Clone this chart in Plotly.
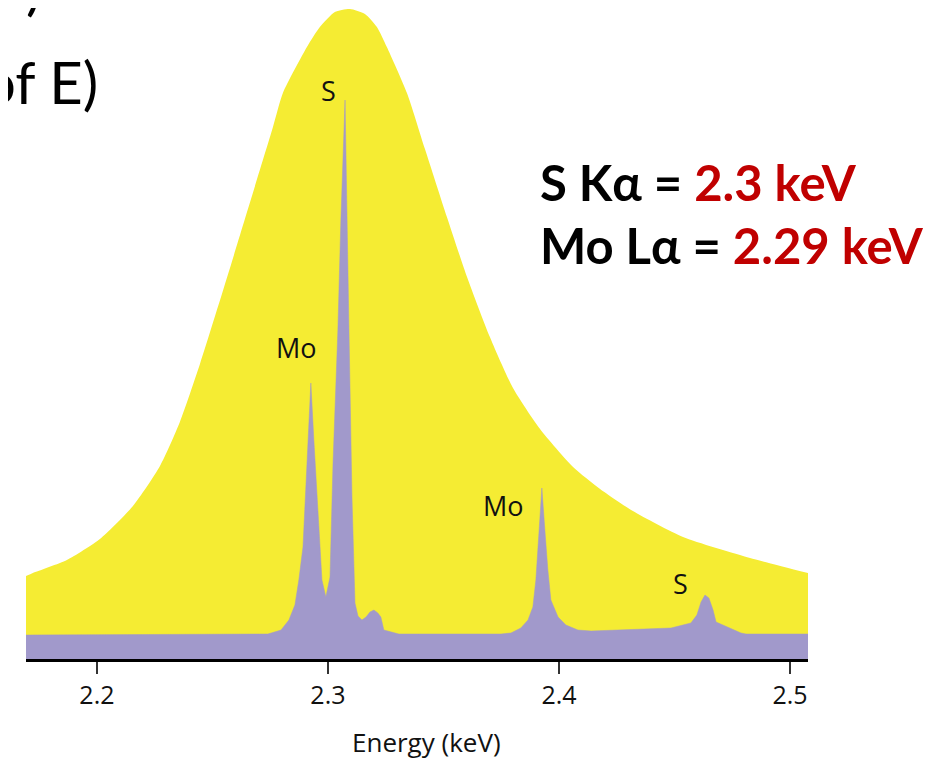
import plotly.graph_objects as go

# Broad (resolution-broadened) envelope, energy in keV / relative intensity
envelope_energy = [2.1693, 2.1723, 2.1870, 2.2013, 2.2156, 2.2273, 2.2359, 2.2446,
                   2.2576, 2.2675, 2.2762, 2.2805, 2.2909, 2.2965, 2.3030,
                   2.3095, 2.3160, 2.3212, 2.3255, 2.3342, 2.3420, 2.3515, 2.3602,
                   2.3701, 2.3801, 2.3918, 2.4061, 2.4178, 2.4320, 2.4537, 2.4827,
                   2.5078]
envelope_counts = [83, 86, 99, 120, 153, 193, 237, 295,
                   391, 466, 532, 566, 612, 632, 647,
                   650, 645, 632, 612, 566, 510, 442, 382,
                   322, 271, 230, 192, 170, 148, 122, 101,
                   86]

# High-resolution spectrum (sharp peaks)
spectrum_energy = [2.1693, 2.2740, 2.2797, 2.2831, 2.2857, 2.2874, 2.2892, 2.2909,
                   2.2926, 2.2939, 2.2952, 2.2974, 2.2991, 2.3009, 2.3022, 2.3043,
                   2.3056, 2.3074, 2.3091, 2.3104, 2.3117, 2.3130, 2.3147, 2.3165,
                   2.3182, 2.3199, 2.3216, 2.3229, 2.3242, 2.3277, 2.3307, 2.3394,
                   2.3749, 2.3792, 2.3835, 2.3866, 2.3887, 2.3900, 2.3913, 2.3926,
                   2.3939, 2.3952, 2.3965, 2.3996, 2.4030, 2.4082, 2.4139, 2.4485,
                   2.4571, 2.4597, 2.4615, 2.4632, 2.4649, 2.4667, 2.4680, 2.4736,
                   2.4788, 2.4810, 2.5078]
spectrum_counts = [24, 25, 29, 39, 54, 79, 112, 189,
                   276, 219, 162, 79, 62, 82, 196, 329,
                   439, 559, 329, 162, 56, 43, 39, 42,
                   47, 49, 46, 42, 29, 27, 25, 25,
                   25, 26, 31, 39, 52, 79, 129, 171,
                   129, 89, 59, 42, 34, 29, 28, 31,
                   36, 44, 57, 64, 61, 49, 37, 31,
                   26, 25, 25]

tick_values = [2.2, 2.3, 2.4, 2.5]
tick_labels = ["2.2", "2.3", "2.4", "2.5"]
x_title = "Energy (keV)"

peak_labels = ["S", "Mo", "Mo", "S"]
peak_label_energy = [2.3004, 2.2866, 2.3762, 2.4528]
peak_label_counts = [569, 312, 154, 76]

YELLOW = "#F5EC33"
PURPLE = "#A199CB"
RED = "#C00000"

OFF = 8  # page body margin of the browser
W, H = 948 - OFF, 759 - OFF
L, R, T, B = 18, 140, 0, 100
PW, PH = W - L - R, H - T - B


def px(x_screen):
    return (x_screen - OFF - L) / PW


def py(y_screen):
    return (H - B - (y_screen - OFF)) / PH


fig = go.Figure()
fig.add_trace(go.Scatter(x=envelope_energy, y=envelope_counts, mode="lines",
                         line=dict(color=YELLOW, width=0, shape="spline", smoothing=0.6),
                         fill="tozeroy", fillcolor=YELLOW, hoverinfo="skip",
                         showlegend=False))
fig.add_trace(go.Scatter(x=spectrum_energy, y=spectrum_counts, mode="lines",
                         line=dict(color=PURPLE, width=0.5),
                         fill="tozeroy", fillcolor=PURPLE, hoverinfo="skip",
                         showlegend=False))

for t, xe, yc in zip(peak_labels, peak_label_energy, peak_label_counts):
    fig.add_annotation(x=xe, y=yc, xref="x", yref="y", text=t, showarrow=False,
                       font=dict(family="Open Sans", size=27, color="#111111"))

fig.add_annotation(x=px(538), y=py(182), xref="paper", yref="paper", xanchor="left",
                   yanchor="middle", showarrow=False,
                   text="S Kα = <span style='color:%s'>2.3 keV</span>" % RED,
                   font=dict(family="Lato", size=49, color="#000000", weight="bold"))
fig.add_annotation(x=px(538), y=py(245), xref="paper", yref="paper", xanchor="left",
                   yanchor="middle", showarrow=False,
                   text="Mo Lα = <span style='color:%s'>2.29 keV</span>" % RED,
                   font=dict(family="Lato", size=49, color="#000000", weight="bold"))

# x-axis title
fig.add_annotation(x=px(426), y=py(742), xref="paper", yref="paper", xanchor="center",
                   yanchor="middle", showarrow=False, text=x_title,
                   font=dict(family="Open Sans", size=26, color="#111111"))

# fragments of slide text cut off at the top-left edge
fig.add_annotation(x=px(100), y=py(81), xref="paper", yref="paper", xanchor="right",
                   yanchor="middle", showarrow=False, text="of E)",
                   font=dict(family="Lato", size=58, color="#000000"))
fig.add_annotation(x=px(44), y=py(-14), xref="paper", yref="paper", xanchor="right",
                   yanchor="middle", showarrow=False, text=")",
                   font=dict(family="Lato", size=58, color="#000000"))

fig.update_layout(
    width=W, height=H,
    margin=dict(l=L, r=R, t=T, b=B, pad=0),
    paper_bgcolor="white", plot_bgcolor="white",
    showlegend=False,
    xaxis=dict(range=[2.1693, 2.5078], tickvals=tick_values, ticktext=tick_labels,
               showgrid=False, zeroline=False, showline=True, linecolor="#000000",
               linewidth=3, ticks="outside", ticklen=12, tickwidth=1.5,
               tickcolor="#333333",
               tickfont=dict(family="Open Sans", size=25, color="#111111")),
    yaxis=dict(range=[0, PH], visible=False),
)

fig.write_html("out.html")
